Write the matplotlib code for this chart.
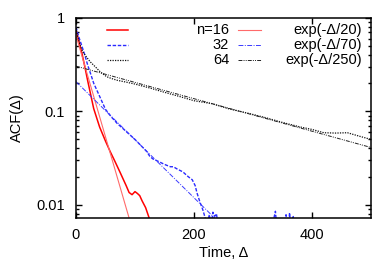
import numpy as np
import matplotlib
matplotlib.use("Agg")
import matplotlib.pyplot as plt
import matplotlib.ticker as ticker

plt.rcParams['font.family'] = ['Liberation Sans', 'DejaVu Sans']

# ACF data (nan = gap / undefined)
red_t = [0, 5, 10, 15, 20, 25, 30, 40, 50, 58, 65, 75, 85, 90, 95, 100, 104, 108, 112, 118, 124, 130]
red_acf = [0.75, 0.56, 0.42, 0.30, 0.21, 0.15, 0.107, 0.068, 0.048, 0.037, 0.030, 0.022, 0.016,
           0.0135, 0.0128, 0.0138, 0.0132, 0.0125, 0.011, 0.0093, 0.0072, 0.005]

blue_t = [0, 5, 10, 15, 20, 25, 30, 40, 50, 60, 70, 80, 90, 100, 110, 115, 120, 125, 130, 140,
          150, 160, 165, 172, 181, 190, 197, 202, 205, 210, 215, 219, 222, 226, 229, 232, 235,
          238, 241, 245, 250, 330, 338, 341, 352, 356, 359, 362, 365, 368, 371]
blue_acf = [0.80, 0.62, 0.50, 0.40, 0.31, 0.25, 0.20, 0.145, 0.105, 0.087, 0.074, 0.065, 0.057,
            0.050, 0.043, 0.040, 0.037, 0.033, 0.031, 0.029, 0.027, 0.0255, 0.0255, 0.024,
            0.0225, 0.020, 0.0185, 0.016, 0.0134, 0.0107, 0.0088, 0.0072, 0.006, 0.0078, 0.006,
            0.0083, 0.0075, 0.008, 0.006, 0.004, np.nan, 0.005, 0.0085, 0.005, 0.005, 0.0078,
            0.005, 0.0082, 0.005, 0.0076, 0.005]

black_t = [0, 3, 7, 12, 18, 24, 35, 41, 52, 60, 70, 86, 100, 125, 150, 176, 200, 230, 260, 290,
           320, 350, 380, 400, 420, 440, 460, 481, 500]
black_acf = [0.78, 0.62, 0.51, 0.43, 0.38, 0.34, 0.29, 0.265, 0.235, 0.225, 0.215, 0.205, 0.196,
             0.178, 0.16, 0.144, 0.13, 0.121, 0.106, 0.096, 0.086, 0.076, 0.068, 0.064, 0.059,
             0.0585, 0.059, 0.054, 0.050]

# exponential fits (straight on log axis), end points
fit20_t, fit20_v = [0, 95], [0.65, 0.0056]
fit70_t, fit70_v = [0, 250], [0.208, 0.0058]
fit250_t, fit250_v = [0, 500], [0.305, 0.041]

labels_n = ['n=16', '32', '64']
labels_fit = ['exp(-\u0394/20)', 'exp(-\u0394/70)', 'exp(-\u0394/250)']

fig = plt.figure(figsize=(3.82, 2.67), dpi=100)
ax = fig.add_axes([76 / 382, 49 / 267, 295 / 382, 200 / 267])

styles = [
    dict(color='#ff0000', lw=1.1, ls='-'),
    dict(color='#2a2aff', lw=1.0, ls=(0, (2.5, 1.2))),
    dict(color='#111111', lw=0.9, ls=(0, (1, 1))),
]
fit_styles = [
    dict(color='#ff6a6a', lw=0.8, ls='-'),
    dict(color='#3a3aff', lw=0.7, ls=(0, (5, 1.5, 1, 1.5))),
    dict(color='#222222', lw=0.7, ls=(0, (4, 1.2, 1, 1.2, 1, 1.2))),
]

series = [(red_t, red_acf), (blue_t, blue_acf), (black_t, black_acf)]
fits = [(fit20_t, fit20_v), (fit70_t, fit70_v), (fit250_t, fit250_v)]

for (t, v), st in zip(series, styles):
    ax.plot(t, v, **st)
for (t, v), st in zip(fits, fit_styles):
    ax.plot(t, v, **st)

ax.set_yscale('log')
ax.set_xlim(0, 500)
ax.set_ylim(0.0072, 1)
ax.set_xticks([0, 200, 400])
ax.yaxis.set_major_locator(ticker.FixedLocator([0.01, 0.1, 1]))
ax.yaxis.set_major_formatter(ticker.FuncFormatter(lambda y, _: f'{y:g}'))
ax.yaxis.set_minor_locator(ticker.LogLocator(base=10, subs=np.arange(2, 10)))
ax.yaxis.set_minor_formatter(ticker.NullFormatter())

ax.tick_params(which='both', direction='in', top=True, right=True, labelsize=10.5, width=1)
ax.tick_params(which='major', length=4)
ax.tick_params(which='minor', length=2.5)
ax.tick_params(axis='y', pad=8)
ax.tick_params(axis='x', pad=7)
for s in ax.spines.values():
    s.set_linewidth(1.1)

ax.set_xlabel('Time, \u0394', fontsize=10.5, labelpad=3)
ax.set_ylabel('ACF(\u0394)', fontsize=10.5, labelpad=9)

# gnuplot-like key drawn by hand
rows = [0.94, 0.865, 0.79]
for y, st, fst, ln, lf in zip(rows, styles, fit_styles, labels_n, labels_fit):
    ax.plot([0.105, 0.176], [y, y], transform=ax.transAxes, **st)
    ax.text(0.519, y, ln, transform=ax.transAxes, ha='right', va='center', fontsize=10.5)
    ax.plot([0.549, 0.627], [y, y], transform=ax.transAxes, **fst)
    ax.text(0.969, y, lf, transform=ax.transAxes, ha='right', va='center', fontsize=10.5)

fig.savefig('out.png', dpi=100)
